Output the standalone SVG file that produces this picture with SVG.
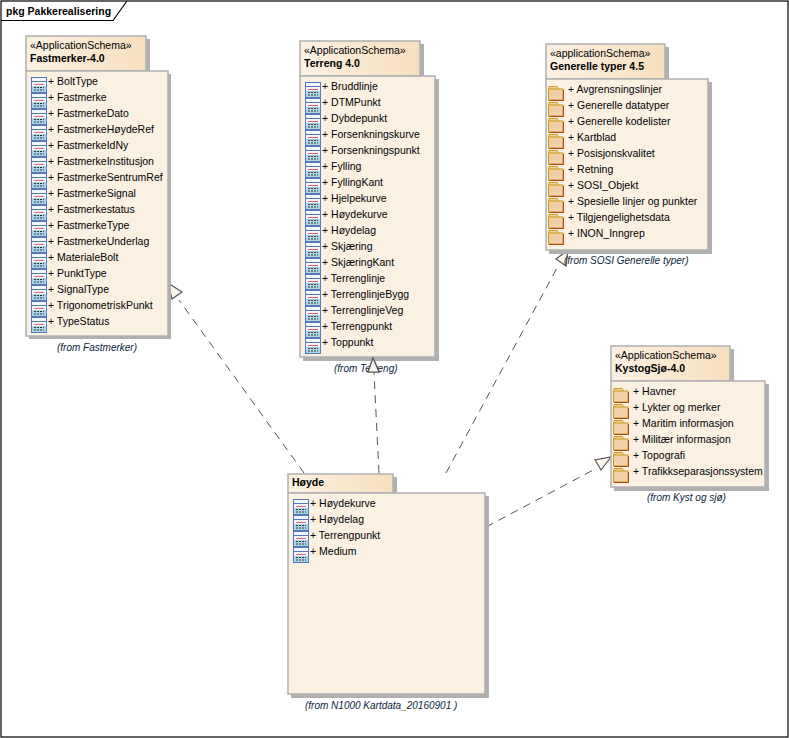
<svg xmlns="http://www.w3.org/2000/svg" width="789" height="738" viewBox="0 0 789 738">
<style>
text{font-family:"Liberation Sans",Arial,sans-serif;font-size:10.5px;fill:#000}
.n{font-weight:bold}
.from{font-style:italic;font-size:10px;fill:#0b1d3a}
.body{fill:#fbf1e3;stroke:#b0b0b0;stroke-width:1.5}
.tab{fill:url(#tabfill);stroke:#b0b0b0;stroke-width:1.5}
.sh{fill:#b0b0b0}
.dash{fill:none;stroke:#555;stroke-width:1;stroke-dasharray:8 6}
.head{fill:#fbf6ec;stroke:#555;stroke-width:1.2}
</style>
<defs>
<linearGradient id="tabfill" x1="0" x2="1" y1="0" y2="0"><stop offset="0" stop-color="#fbf1e3"/><stop offset="1" stop-color="#f7dfbd"/></linearGradient>
<g id="cls">
<rect x="0.5" y="0.5" width="15" height="15" fill="#f4f6fb" stroke="#5577bb"/>
<path d="M1 4.5H15" stroke="#5577bb" fill="none"/>
<path d="M3 7.5H13" stroke="#e06a6a" fill="none"/>
<rect x="1" y="9" width="14" height="6" fill="#a9d8e8"/>
<path d="M3 10.5H13M3 13H13" stroke="#333" stroke-dasharray="2 1" fill="none"/>
</g>
<g id="pkg">
<path d="M1 4V1.5H9L11 4" fill="#f3cfa9" stroke="#c9a013"/>
<rect x="0.5" y="4" width="14.5" height="11" fill="#f3cfa9" stroke="#c9a013"/>
<path d="M1 15.5H15.5V5" fill="none" stroke="#a8481c"/>
</g>
</defs>
<rect width="789" height="738" fill="#fff"/>
<rect x="1" y="1" width="787" height="736" fill="none" stroke="#000" stroke-width="1.2"/>
<path d="M1 20.5H113L127 1" fill="none" stroke="#000" stroke-width="1.2"/>
<text x="6" y="14.5" style="font-weight:bold;font-size:10.5px">pkg Pakkerealisering</text>

<g id="connectors">
<path class="dash" d="M304 473L179 300"/>
<path class="head" d="M168 283L182 292L172 299Z"/>
<path class="dash" d="M379 473L374 373"/>
<path class="head" d="M373 358L379 372L368 372Z"/>
<path class="dash" d="M446 473L557 268"/>
<path class="head" d="M568 250L566 266L556 259Z"/>
<path class="dash" d="M486 527L597 468"/>
<path class="head" d="M611 457L601 470L595 460Z"/>
</g>

<g id="fastmerker">
<rect class="sh" x="29" y="39" width="121" height="35"/><rect class="sh" x="29" y="74" width="142" height="265"/>
<rect class="tab" x="26" y="36" width="120" height="35"/>
<rect class="body" x="26" y="71" width="142" height="265"/>
<text x="30" y="49">«ApplicationSchema»</text><text class="n" x="30" y="62">Fastmerker-4.0</text>
<use href="#cls" x="31" y="77"/><text x="48" y="85">+ BoltType</text>
<use href="#cls" x="31" y="93"/><text x="48" y="101">+ Fastmerke</text>
<use href="#cls" x="31" y="109"/><text x="48" y="117">+ FastmerkeDato</text>
<use href="#cls" x="31" y="125"/><text x="48" y="133">+ FastmerkeHøydeRef</text>
<use href="#cls" x="31" y="141"/><text x="48" y="149">+ FastmerkeIdNy</text>
<use href="#cls" x="31" y="157"/><text x="48" y="165">+ FastmerkeInstitusjon</text>
<use href="#cls" x="31" y="173"/><text x="48" y="181">+ FastmerkeSentrumRef</text>
<use href="#cls" x="31" y="189"/><text x="48" y="197">+ FastmerkeSignal</text>
<use href="#cls" x="31" y="205"/><text x="48" y="213">+ Fastmerkestatus</text>
<use href="#cls" x="31" y="221"/><text x="48" y="229">+ FastmerkeType</text>
<use href="#cls" x="31" y="237"/><text x="48" y="245">+ FastmerkeUnderlag</text>
<use href="#cls" x="31" y="253"/><text x="48" y="261">+ MaterialeBolt</text>
<use href="#cls" x="31" y="269"/><text x="48" y="277">+ PunktType</text>
<use href="#cls" x="31" y="285"/><text x="48" y="293">+ SignalType</text>
<use href="#cls" x="31" y="301"/><text x="48" y="309">+ TrigonometriskPunkt</text>
<use href="#cls" x="31" y="317"/><text x="48" y="325">+ TypeStatus</text>
<text class="from" x="57" y="351">(from Fastmerker)</text>
</g>

<g id="terreng">
<rect class="sh" x="303" y="44" width="121" height="35"/><rect class="sh" x="303" y="79" width="136" height="282"/>
<rect class="tab" x="300" y="41" width="120" height="35"/>
<rect class="body" x="300" y="76" width="135" height="281"/>
<text x="304" y="54">«ApplicationSchema»</text><text class="n" x="304" y="67">Terreng 4.0</text>
<use href="#cls" x="305" y="82"/><text x="322" y="90">+ Bruddlinje</text>
<use href="#cls" x="305" y="98"/><text x="322" y="106">+ DTMPunkt</text>
<use href="#cls" x="305" y="114"/><text x="322" y="122">+ Dybdepunkt</text>
<use href="#cls" x="305" y="130"/><text x="322" y="138">+ Forsenkningskurve</text>
<use href="#cls" x="305" y="146"/><text x="322" y="154">+ Forsenkningspunkt</text>
<use href="#cls" x="305" y="162"/><text x="322" y="170">+ Fylling</text>
<use href="#cls" x="305" y="178"/><text x="322" y="186">+ FyllingKant</text>
<use href="#cls" x="305" y="194"/><text x="322" y="202">+ Hjelpekurve</text>
<use href="#cls" x="305" y="210"/><text x="322" y="218">+ Høydekurve</text>
<use href="#cls" x="305" y="226"/><text x="322" y="234">+ Høydelag</text>
<use href="#cls" x="305" y="242"/><text x="322" y="250">+ Skjæring</text>
<use href="#cls" x="305" y="258"/><text x="322" y="266">+ SkjæringKant</text>
<use href="#cls" x="305" y="274"/><text x="322" y="282">+ Terrenglinje</text>
<use href="#cls" x="305" y="290"/><text x="322" y="298">+ TerrenglinjeBygg</text>
<use href="#cls" x="305" y="306"/><text x="322" y="314">+ TerrenglinjeVeg</text>
<use href="#cls" x="305" y="322"/><text x="322" y="330">+ Terrengpunkt</text>
<use href="#cls" x="305" y="338"/><text x="322" y="346">+ Toppunkt</text>
<text class="from" x="334" y="372">(from Terreng)</text>
<path class="head" d="M373 358L379 372L368 372Z"/>
</g>

<g id="generelle">
<rect class="sh" x="549" y="47" width="120" height="35"/><rect class="sh" x="549" y="82" width="163" height="172"/>
<rect class="tab" x="546" y="44" width="119" height="35"/>
<rect class="body" x="546" y="79" width="162" height="171"/>
<text x="550" y="57">«applicationSchema»</text><text class="n" x="550" y="70">Generelle typer 4.5</text>
<use href="#pkg" x="548" y="85"/><text x="568" y="93">+ Avgrensningslinjer</text>
<use href="#pkg" x="548" y="101"/><text x="568" y="109">+ Generelle datatyper</text>
<use href="#pkg" x="548" y="117"/><text x="568" y="125">+ Generelle kodelister</text>
<use href="#pkg" x="548" y="133"/><text x="568" y="141">+ Kartblad</text>
<use href="#pkg" x="548" y="149"/><text x="568" y="157">+ Posisjonskvalitet</text>
<use href="#pkg" x="548" y="165"/><text x="568" y="173">+ Retning</text>
<use href="#pkg" x="548" y="181"/><text x="568" y="189">+ SOSI_Objekt</text>
<use href="#pkg" x="548" y="197"/><text x="568" y="205">+ Spesielle linjer og punkter</text>
<use href="#pkg" x="548" y="213"/><text x="568" y="221">+ Tilgjengelighetsdata</text>
<use href="#pkg" x="548" y="229"/><text x="568" y="237">+ INON_Inngrep</text>
<text class="from" x="564" y="264">(from SOSI Generelle typer)</text>
</g>

<g id="kystogsjo">
<rect class="sh" x="614" y="349" width="120" height="35"/><rect class="sh" x="614" y="384" width="155" height="107"/>
<rect class="tab" x="611" y="346" width="119" height="35"/>
<rect class="body" x="611" y="381" width="154" height="106"/>
<text x="615" y="359">«ApplicationSchema»</text><text class="n" x="615" y="372">KystogSjø-4.0</text>
<use href="#pkg" x="613" y="387"/><text x="633" y="395">+ Havner</text>
<use href="#pkg" x="613" y="403"/><text x="633" y="411">+ Lykter og merker</text>
<use href="#pkg" x="613" y="419"/><text x="633" y="427">+ Maritim informasjon</text>
<use href="#pkg" x="613" y="435"/><text x="633" y="443">+ Militær informasjon</text>
<use href="#pkg" x="613" y="451"/><text x="633" y="459">+ Topografi</text>
<use href="#pkg" x="613" y="467"/><text x="633" y="475">+ Trafikkseparasjonssystem</text>
<text class="from" x="647" y="501">(from Kyst og sjø)</text>
</g>

<g id="hoyde">
<rect class="sh" x="291" y="477" width="106" height="19"/><rect class="sh" x="291" y="496" width="198" height="202"/>
<rect class="tab" x="288" y="474" width="105" height="19"/>
<rect class="body" x="288" y="493" width="197" height="201"/>
<text class="n" x="292" y="486">Høyde</text>
<use href="#cls" x="293" y="499"/><text x="310" y="507">+ Høydekurve</text>
<use href="#cls" x="293" y="515"/><text x="310" y="523">+ Høydelag</text>
<use href="#cls" x="293" y="531"/><text x="310" y="539">+ Terrengpunkt</text>
<use href="#cls" x="293" y="547"/><text x="310" y="555">+ Medium</text>
<text class="from" x="305" y="709">(from N1000 Kartdata_20160901 )</text>
</g>
</svg>
